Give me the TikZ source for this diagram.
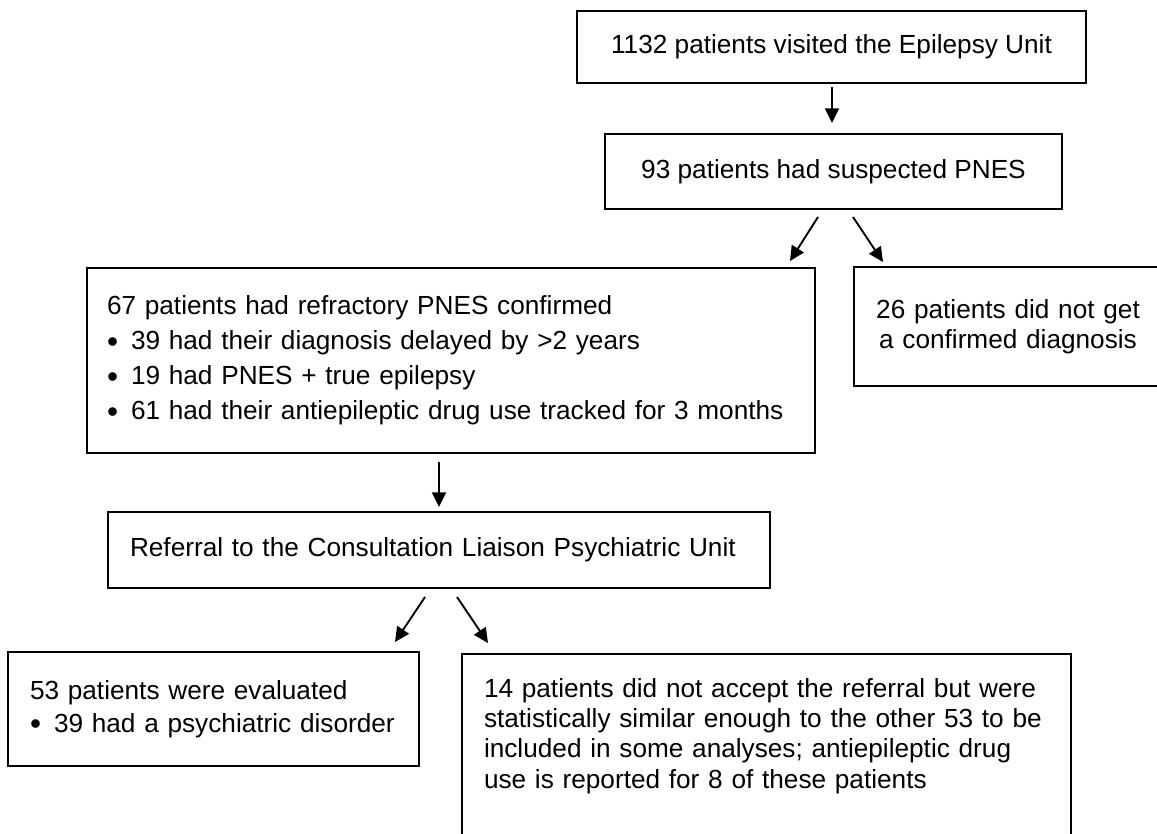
\documentclass[tikz,border=0pt]{standalone}
\usepackage{fontspec}
\setmainfont{Liberation Sans}
\usetikzlibrary{arrows.meta}
\newcommand{\itm}[1]{\mbox{\makebox[18pt][l]{\raisebox{-2.1pt}{\fontsize{23.7pt}{0pt}\selectfont\textbullet}}#1}}

\begin{document}
\begin{tikzpicture}[x=0.75pt, y=-0.75pt,
  box/.style={draw, line width=1.3pt, inner sep=0pt, font=\fontsize{19.65pt}{22.7pt}\selectfont},
  arr/.style={line width=1.4pt, -{Triangle[length=11pt, width=10.5pt]}}]
\useasboundingbox (0,0) rectangle (1157,834);

\node[box, minimum width=381.75pt, minimum height=54pt] (visited) at (831.5,47) {1132 patients visited the Epilepsy Unit};
\node[box, minimum width=342.75pt, minimum height=56.25pt] (suspected) at (833.5,171.5) {93 patients had suspected PNES};
\node[box, minimum width=546pt, minimum height=138.75pt, text width=516pt, align=left] (confirmed) at (451,360.5)
  {67 patients had refractory PNES confirmed\\[3.5pt]
   \itm{39 had their diagnosis delayed by >2 years}\\[3.5pt]
   \itm{19 had PNES + true epilepsy}\\[3.5pt]
   \itm{61 had their antiepileptic drug use tracked for 3 months}};
\node[box, minimum width=231pt, minimum height=89.25pt, text width=210pt, align=center] (unconfirmed) at (1008,326.5)
  {26 patients did not get\\ a confirmed diagnosis};
\node[box, minimum width=496.5pt, minimum height=57pt, text width=463.5pt, align=left] (referral) at (439,550)
  {Referral to the Consultation Liaison Psychiatric Unit};
\node[box, minimum width=308.25pt, minimum height=85.5pt, text width=275.25pt, align=left] (evaluated) at (213.5,709)
  {53 patients were evaluated\\[1.7pt]
   \itm{39 had a psychiatric disorder}};
\node[box, anchor=north, minimum width=456.75pt, inner ysep=18.4pt, text width=423.75pt, align=left] (declined) at (766.5,653)
  {14 patients did not accept the referral but were\\
   statistically similar enough to the other 53 to be\\
   included in some analyses; antiepileptic drug\\
   use is reported for 8 of these patients\\
   \rule{0pt}{30pt}};

\coordinate (ab1) at (832,87);
\coordinate (ab2) at (832,123);
\coordinate (bc1) at (818,217);
\coordinate (bc2) at (790,261);
\coordinate (bd1) at (853,217);
\coordinate (bd2) at (883,262);
\coordinate (ce1) at (439,462);
\coordinate (ce2) at (439,507);
\coordinate (ef1) at (425,597);
\coordinate (ef2) at (395,642);
\coordinate (eg1) at (457,597);
\coordinate (eg2) at (488,643);

\draw[arr] (ab1) -- (ab2);
\draw[arr] (bc1) -- (bc2);
\draw[arr] (bd1) -- (bd2);
\draw[arr] (ce1) -- (ce2);
\draw[arr] (ef1) -- (ef2);
\draw[arr] (eg1) -- (eg2);
\end{tikzpicture}
\end{document}
